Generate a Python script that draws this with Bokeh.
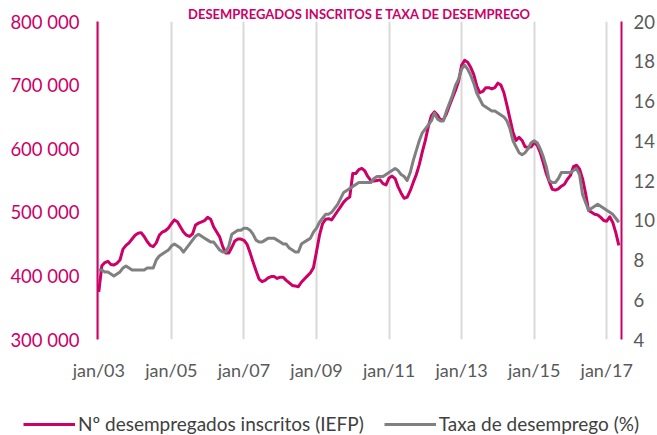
from bokeh.plotting import figure
from bokeh.models import Range1d, LinearAxis, FixedTicker, Legend, LegendItem, Title
from bokeh.layouts import column
from bokeh.embed import file_html
from bokeh.resources import INLINE

# Monthly data, Jan 2003 .. May 2017
start_year = 2003
# Nº desempregados inscritos (IEFP), thousands
desempregados_mil = [
    375, 416, 421, 423, 418, 417, 420, 425, 442, 448, 452, 458,   # 2003
    464, 467, 468, 462, 454, 448, 446, 452, 464, 469, 471, 475,   # 2004
    482, 488, 485, 477, 469, 464, 462, 466, 480, 483, 485, 487,   # 2005
    492, 489, 477, 469, 461, 446, 436, 436, 445, 455, 458, 458,   # 2006
    456, 450, 437, 422, 408, 395, 391, 393, 397, 399, 399, 396,   # 2007
    398, 398, 393, 389, 385, 384, 383, 390, 395, 400, 405, 413,   # 2008
    438, 464, 482, 489, 490, 488, 495, 502, 509, 516, 521, 524,   # 2009
    561, 561, 567, 569, 565, 556, 550, 549, 550, 551, 545, 543,   # 2010
    554, 557, 553, 540, 530, 522, 524, 534, 547, 559, 575, 595,   # 2011
    613, 635, 652, 658, 653, 645, 646, 655, 668, 680, 692, 706,   # 2012
    731, 739, 736, 728, 717, 699, 688, 690, 696, 696, 694, 696,   # 2013
    703, 700, 688, 668, 647, 626, 613, 618, 613, 603, 602, 603,   # 2014
    610, 605, 594, 578, 561, 548, 536, 535, 537, 541, 544, 552,   # 2015
    558, 572, 574, 568, 553, 530, 503, 500, 497, 496, 492, 487,   # 2016
    486, 493, 484, 468, 448,                                      # 2017
]
# Taxa de desemprego (%)
taxa = [
    7.5, 7.5, 7.4, 7.4, 7.3, 7.2, 7.3, 7.4, 7.6, 7.7, 7.6, 7.5,
    7.5, 7.5, 7.5, 7.5, 7.6, 7.6, 7.6, 8.0, 8.2, 8.3, 8.4, 8.5,
    8.7, 8.8, 8.7, 8.6, 8.4, 8.6, 8.8, 9.0, 9.2, 9.3, 9.2, 9.1,
    9.0, 8.9, 8.9, 8.7, 8.5, 8.4, 8.4, 8.7, 9.3, 9.4, 9.5, 9.5,
    9.6, 9.6, 9.5, 9.3, 9.0, 8.9, 8.9, 9.0, 9.1, 9.1, 9.1, 9.0,
    8.9, 8.8, 8.8, 8.6, 8.5, 8.4, 8.4, 8.8, 8.9, 9.0, 9.1, 9.4,
    9.6, 9.9, 10.1, 10.3, 10.3, 10.4, 10.6, 10.8, 11.1, 11.4, 11.5, 11.6,
    11.7, 11.8, 11.9, 11.9, 11.9, 11.9, 11.9, 12.1, 12.2, 12.2, 12.2, 12.3,
    12.4, 12.5, 12.6, 12.5, 12.3, 12.2, 12.0, 12.4, 13.0, 13.5, 14.0, 14.4,
    14.6, 14.8, 15.0, 15.4, 15.1, 15.0, 15.0, 15.5, 15.9, 16.3, 16.8, 17.1,
    17.6, 17.8, 17.6, 17.3, 16.9, 16.4, 16.1, 15.8, 15.7, 15.6, 15.5, 15.5,
    15.4, 15.3, 15.2, 15.0, 14.6, 14.0, 13.7, 13.4, 13.3, 13.4, 13.6, 13.9,
    14.0, 13.9, 13.6, 13.2, 12.7, 12.0, 11.9, 11.9, 12.1, 12.4, 12.4, 12.4,
    12.4, 12.5, 12.6, 12.3, 11.3, 10.9, 10.5, 10.6, 10.7, 10.8, 10.7, 10.6,
    10.5, 10.4, 10.3, 10.1, 9.9,
]
x_tick_years = [2003, 2005, 2007, 2009, 2011, 2013, 2015, 2017]
x_tick_labels = ["jan/03", "jan/05", "jan/07", "jan/09", "jan/11", "jan/13", "jan/15", "jan/17"]
left_ticks = [300000, 400000, 500000, 600000, 700000, 800000]
left_labels = ["300 000", "400 000", "500 000", "600 000", "700 000", "800 000"]
right_ticks = [4, 6, 8, 10, 12, 14, 16, 18, 20]
series_names = ["Nº desempregados inscritos (IEFP)", "Taxa de desemprego (%)"]
chart_title = "DESEMPREGADOS INSCRITOS E TAXA DE DESEMPREGO"

PINK = "#CC0066"
GRAY = "#808080"
TXT = "#595959"
LEG_TXT = "#404040"
FONT = "Lato"

x_months = [start_year + i / 12 for i in range(len(desempregados_mil))]
y_desemp = [v * 1000 for v in desempregados_mil]
x_taxa = x_months[:len(taxa)]

p = figure(width=657, height=400,
           x_range=Range1d(2002.964, 2017.407),
           y_range=Range1d(300000, 800000),
           output_backend="svg", toolbar_location=None,
           min_border_left=97, min_border_right=34,
           min_border_top=21, min_border_bottom=61)
p.frame_align = False
p.extra_y_ranges = {"taxa": Range1d(4, 20)}
p.outline_line_color = None
p.background_fill_color = "white"
p.border_fill_color = "white"

p.title = Title(text=chart_title, align="center", text_color=PINK,
                text_font=FONT, text_font_size="13px", text_font_style="bold",
                standoff=0)

r1 = p.line(x_months, y_desemp, line_color=PINK, line_width=3, line_join="round")
r2 = p.line(x_taxa, taxa, line_color=GRAY, line_width=3,
            line_join="round", y_range_name="taxa")

# x axis
xa = p.xaxis[0]
xa.ticker = FixedTicker(ticks=x_tick_years)
xa.major_label_overrides = {t: l for t, l in zip(x_tick_years, x_tick_labels)}
xa.axis_line_color = None
xa.major_tick_line_color = None
xa.minor_tick_line_color = None
xa.major_tick_out = 0
xa.major_tick_in = 0
xa.minor_tick_out = 0
xa.major_label_text_font = FONT
xa.major_label_text_font_size = "18px"
xa.major_label_text_color = TXT
xa.major_label_standoff = 19

p.xgrid.ticker = FixedTicker(ticks=x_tick_years)
p.xgrid.grid_line_color = "#D9D9D9"
p.xgrid.grid_line_width = 2
p.ygrid.grid_line_color = None

# left axis
ya = p.yaxis[0]
ya.ticker = FixedTicker(ticks=left_ticks)
ya.major_label_overrides = {t: l for t, l in zip(left_ticks, left_labels)}
ya.axis_line_color = PINK
ya.axis_line_width = 2
ya.major_tick_line_color = None
ya.minor_tick_line_color = None
ya.major_tick_out = 0
ya.major_tick_in = 0
ya.minor_tick_out = 0
ya.major_label_text_font = FONT
ya.major_label_text_font_size = "18.5px"
ya.major_label_text_color = PINK
ya.major_label_standoff = 18

# right axis
ra = LinearAxis(y_range_name="taxa", ticker=FixedTicker(ticks=right_ticks))
ra.axis_line_color = PINK
ra.axis_line_width = 2
ra.major_tick_line_color = None
ra.minor_tick_line_color = None
ra.major_tick_out = 0
ra.major_tick_in = 0
ra.minor_tick_out = 0
ra.major_label_text_font = FONT
ra.major_label_text_font_size = "18.5px"
ra.major_label_text_color = TXT
ra.major_label_standoff = 12
p.add_layout(ra, "right")

# legend strip below the chart (same series, drawn out of view; only the legend shows)
pl = figure(width=657, height=35, x_range=Range1d(0, 1), y_range=Range1d(0, 1),
            output_backend="svg", toolbar_location=None,
            min_border_left=0, min_border_right=0, min_border_top=0, min_border_bottom=0)
pl.frame_align = False
pl.axis.visible = False
pl.grid.visible = False
pl.outline_line_color = None
l1 = pl.line(x_months, y_desemp, line_color=PINK, line_width=3)
l2 = pl.line(x_taxa, taxa, line_color=GRAY, line_width=3)
legend = Legend(items=[LegendItem(label=series_names[0], renderers=[l1]),
                       LegendItem(label=series_names[1], renderers=[l2])],
                orientation="horizontal", location=(23, 0),
                padding=0, spacing=20, margin=0,
                glyph_width=52, glyph_height=22, label_standoff=3,
                border_line_color=None, background_fill_alpha=0,
                label_text_font=FONT, label_text_font_size="19px",
                label_text_color=LEG_TXT)
pl.add_layout(legend)

open("out.html", "w").write(file_html(column(p, pl, spacing=0), INLINE))
